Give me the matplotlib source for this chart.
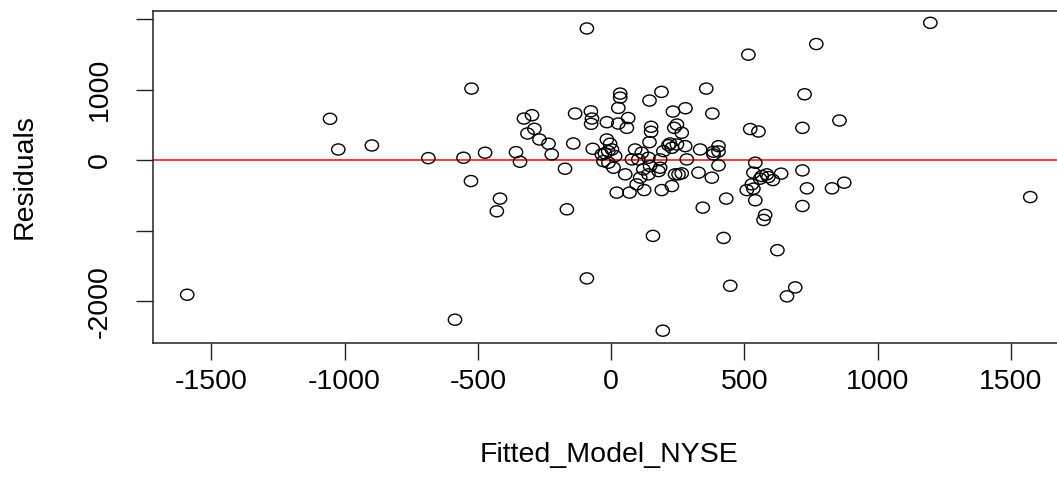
import numpy as np
import matplotlib.pyplot as plt
from matplotlib.path import Path
from matplotlib.transforms import Affine2D

# fitted values (x) and residuals (y)
fitted = [-1591, -1055, -1024, -898, -686, -586, -554, -524, -526, -473,
          -417, -429, -357, -342, -327, -297, -288, -314, -269, -235,
          -223, -173, -166, -142, -135, -91, -91, -76, -72, -75,
          -69, -16, -16, -4, -11, -23, -29, -10, 9, 34,
          34, 27, 27, 64, 59, 21, 69, 124, 96, 190,
          228, 53, 109, 140, 178, 253, 265, 328, 378, 157,
          194, 144, 189, 150, 150, 144, 247, 237, 265, 278,
          215, 221, 334, 384, 403, 403, 357, 279, 232, 380,
          344, 432, 422, 447, 515, 522, 553, 541, 718, 638,
          566, 590, 607, 534, 584, 559, 528, 509, 534, 541,
          735, 829, 875, 718, 578, 572, 624, 691, 660, 1573,
          1198, 770, 726, 718, 857, 3, 15, 90, 115, 140,
          102, 78, 184, 196, 228, 247, 284, 403, 384, 121,
          146, 184, 240, -35]
resid = [-1910, 586, 151, 208, 28, -2264, 34, 1015, -297, 105,
         -546, -726, 113, -23, 590, 637, 444, 378, 293, 232,
         81, -122, -698, 236, 661, 1868, -1678, 693, 590, 515,
         161, 538, 293, 232, 127, 95, -14, -37, -108, 944,
         887, 741, 519, 597, 458, -461, -461, -425, -344, -425,
         -368, -202, -249, -202, -156, -202, -188, -178, -249, -1075,
         -2420, 845, 968, 473, 402, 255, 505, 458, 388, 198,
         212, 236, 151, 119, 198, -75, 1015, 736, 689, 661,
         -674, -546, -1104, -1783, 1496, 441, 406, -37, -146, -192,
         -226, -241, -283, -178, -202, -263, -344, -425, -405, -570,
         -400, -400, -320, -651, -778, -849, -1278, -1806, -1933, -524,
         1948, 1647, 934, 458, 562, 151, 57, 151, 105, 34,
         10, 10, 10, 127, 175, 222, 10, 123, 81, -132,
         -85, -108, -202, 81]

xticks = [-1500, -1000, -500, 0, 500, 1000, 1500]
yticks = [-2000, -1000, 0, 1000, 2000]
ylabels = ["-2000", "", "0", "1000", ""]

plt.rcParams['font.family'] = ['Liberation Sans', 'DejaVu Sans']

fig = plt.figure(figsize=(10.57, 4.82), dpi=100)
ax = fig.add_axes([0.1452, 0.2884, 0.8614, 0.6898])

# R draws pch=1 circles; here they come out a bit wider than tall
ring = Path.unit_circle().transformed(Affine2D().scale(1.2, 1.0))
ax.scatter(fitted, resid, marker=ring, s=9.6**2, facecolors='none',
           edgecolors='black', linewidths=1.0, zorder=3)
ax.axhline(0, color='red', linewidth=1.1, zorder=2)

# R style 4% padding
xr = max(fitted) - min(fitted)
yr = max(resid) - min(resid)
ax.set_xlim(min(fitted) - 0.04 * xr, max(fitted) + 0.04 * xr)
ax.set_ylim(min(resid) - 0.04 * yr, max(resid) + 0.04 * yr)

ax.set_xticks(xticks)
ax.set_xticklabels([str(t) for t in xticks])
ax.set_yticks(yticks)
ax.set_yticklabels(ylabels, rotation=90, va='center')
ax.tick_params(axis='both', length=12, width=1.0, color='#222222',
               labelsize=20.5)
ax.tick_params(axis='x', pad=7)
ax.tick_params(axis='y', pad=17)

for s in ax.spines.values():
    s.set_linewidth(1.1)
    s.set_color('#222222')

ax.set_xlabel("Fitted_Model_NYSE", fontsize=20.5)
ax.set_ylabel("Residuals", fontsize=20.5)
ax.xaxis.set_label_coords(0.5, -0.337)
ax.yaxis.set_label_coords(-0.141, 0.5)
ax.xaxis.label.set_va('center')
ax.yaxis.label.set_va('center')

plt.savefig("out.png", dpi=100)
